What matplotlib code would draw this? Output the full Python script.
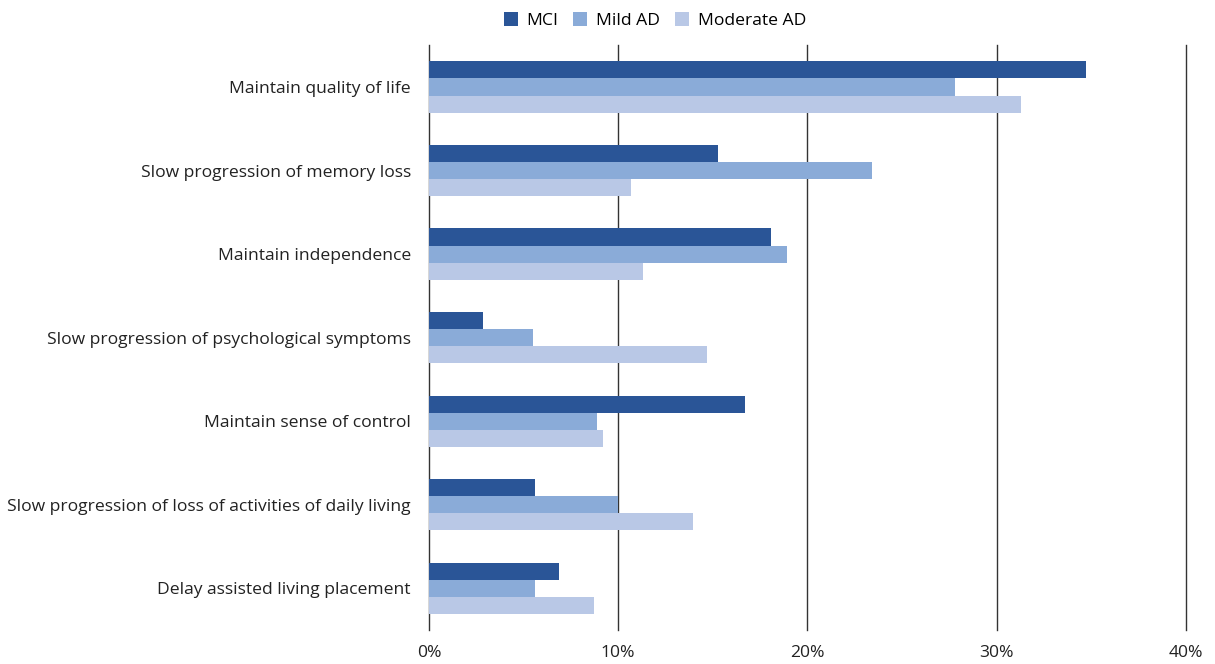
import matplotlib.pyplot as plt
import numpy as np

# data
categories = ["Maintain quality of life", "Slow progression of memory loss",
              "Maintain independence", "Slow progression of psychological symptoms",
              "Maintain sense of control", "Slow progression of loss of activities of daily living",
              "Delay assisted living placement"]
mci = [34.7, 15.3, 18.1, 2.85, 16.7, 5.6, 6.9]
mild_ad = [27.8, 23.4, 18.9, 5.5, 8.9, 10.0, 5.6]
moderate_ad = [31.3, 10.7, 11.3, 14.7, 9.2, 13.95, 8.7]
series_names = ["MCI", "Mild AD", "Moderate AD"]
colors = ["#2a5597", "#8aabd8", "#b9c8e6"]

plt.rcParams["font.family"] = ["Open Sans", "DejaVu Sans"]

fig = plt.figure(figsize=(12.15, 6.64), dpi=100)
ax = fig.add_axes([0.353, 0.051, 0.623, 0.881])

y = np.arange(len(categories))
h = 0.205
for i, (vals, name, c) in enumerate(zip([mci, mild_ad, moderate_ad], series_names, colors)):
    ax.barh(y + (i - 1) * h, vals, height=h, color=c, label=name, zorder=3)

ax.set_ylim(len(categories) - 0.5, -0.5)
ax.set_yticks(y)
ax.set_yticklabels(categories, fontsize=12.6, color="#222222")
ax.set_xlim(0, 40)
ax.set_xticks([0, 10, 20, 30, 40])
ax.set_xticklabels(["0%", "10%", "20%", "30%", "40%"], fontsize=12.6, color="#222222")
ax.tick_params(length=0, pad=11)
ax.tick_params(axis="y", pad=13)
ax.grid(axis="x", color="#333333", linewidth=1, zorder=0)
for line in ax.get_xgridlines():
    line.set_clip_on(False)
for s in ax.spines.values():
    s.set_visible(False)

fig.legend(loc="upper center", bbox_to_anchor=(0.539, 1.005), ncol=3, frameon=False,
           fontsize=12.6, handlelength=0.8, handleheight=0.8, columnspacing=0.85, handletextpad=0.5)

fig.savefig("out.png", dpi=100)
